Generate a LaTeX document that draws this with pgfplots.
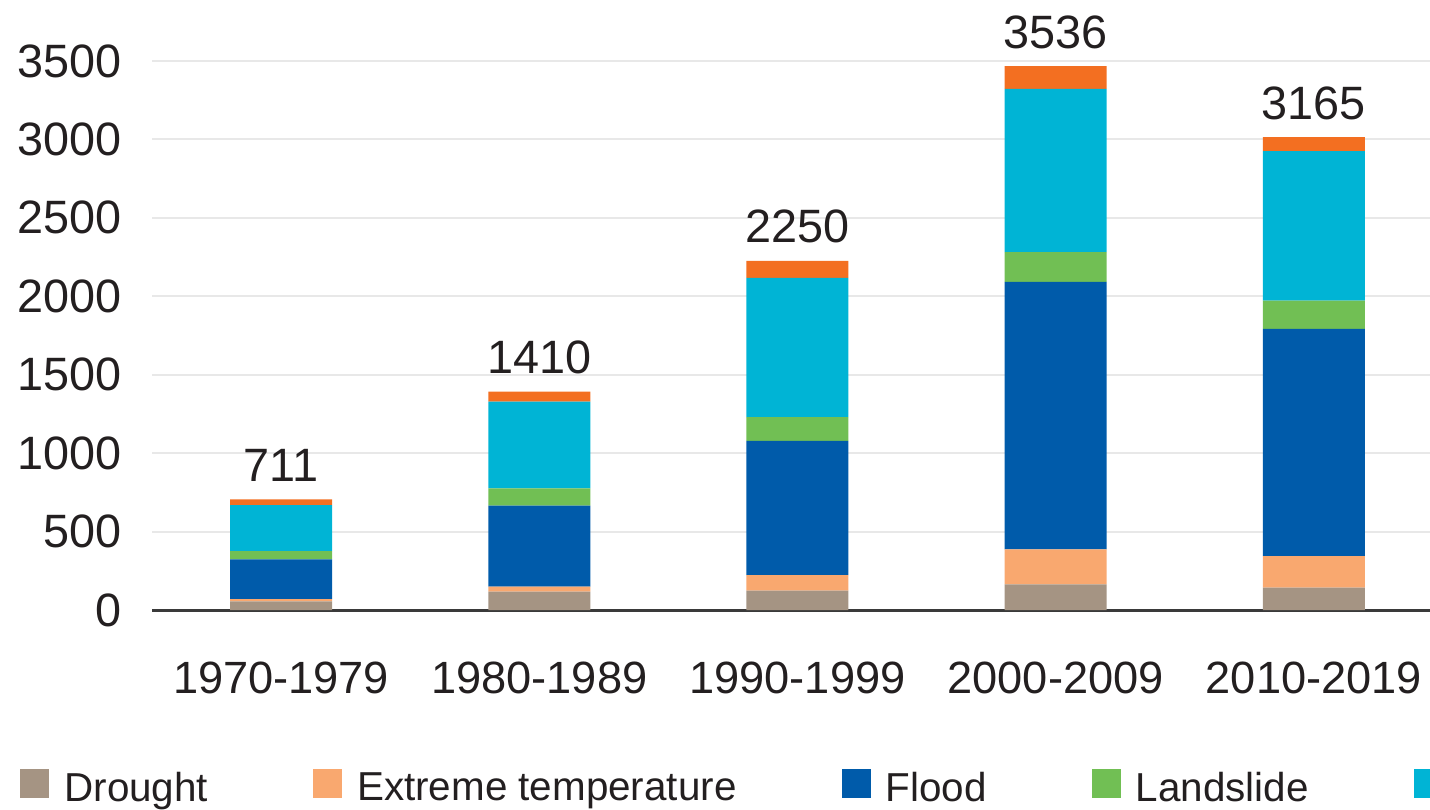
\documentclass[border=0pt]{standalone}
\usepackage{fontspec}
\setmainfont{Liberation Sans}
\usepackage{pgfplots}
\pgfplotsset{compat=1.18}
\definecolor{cDrought}{HTML}{A59483}
\definecolor{cTemp}{HTML}{F9A86F}
\definecolor{cFlood}{HTML}{005BAA}
\definecolor{cLand}{HTML}{71BF54}
\definecolor{cStorm}{HTML}{00B4D5}
\definecolor{cFire}{HTML}{F36F21}
\definecolor{txt}{HTML}{231F20}
\definecolor{gridc}{HTML}{E8E8E8}
\definecolor{axc}{HTML}{3A3A3A}
\tikzset{tl/.style={anchor=south, inner sep=0pt, yshift=8.5pt, text=txt, font=\fontsize{23.4}{28}\selectfont}}
\begin{document}
\begin{tikzpicture}
\begin{axis}[
  at={(76pt,99.5pt)}, anchor=south west,
  scale only axis, width=639pt, height=274.5pt,
  xmin=-0.5, xmax=4.45, ymin=0, ymax=3500,
  ybar stacked, bar width=0.395,
  clip=false,
  axis x line=bottom, axis y line=left,
  axis line style={-},
  x axis line style={draw=axc, line width=1.5pt},
  y axis line style={draw=none},
  major tick length=0pt,
  ymajorgrids, grid style={gridc, line width=1pt},
  xtick={0,1,2,3,4},
  xticklabels={1970-1979,1980-1989,1990-1999,2000-2009,2010-2019},
  ytick={0,500,1000,1500,2000,2500,3000,3500},
  /pgf/number format/assume math mode=true,
  /pgf/number format/1000 sep={},
  yticklabel style={font=\fontsize{23.4}{28}\selectfont, text=txt, inner sep=0pt, anchor=east, xshift=-15pt},
  xticklabel style={font=\fontsize{22.6}{27}\selectfont, text=txt, inner sep=0pt, anchor=north, yshift=-26pt},
  legend columns=6,
  legend image code/.code={\fill[#1] (0pt,-5pt) rectangle (14.5pt,9.5pt);},
  legend style={draw=none, fill=none, inner sep=0pt,
    at={(-0.1033,-0.2895)}, anchor=north west,
    font=\fontsize{20.2}{24}\selectfont, text=txt,
    nodes={inner sep=0pt},
    /tikz/column sep=7.5pt,
    /tikz/every even column/.append style={column sep=52.5pt}},
  legend cell align=left,
]
\addplot[fill=cDrought, draw=none] coordinates {(0,55) (1,117) (2,123) (3,163) (4,142)};
\addplot[fill=cTemp, draw=none] coordinates {(0,15) (1,32) (2,100) (3,224) (4,202)};
\addplot[fill=cFlood, draw=none] coordinates {(0,253) (1,516) (2,855) (3,1705) (4,1448)};
\addplot[fill=cLand, draw=none] coordinates {(0,53) (1,111) (2,151) (3,190) (4,181)};
\addplot[fill=cStorm, draw=none] coordinates {(0,292) (1,552) (2,888) (3,1041) (4,952)};
\addplot[fill=cFire, draw=none] coordinates {(0,38) (1,64) (2,109) (3,144) (4,90)};
\legend{Drought, Extreme temperature, Flood, Landslide, Storm, Wildfire}
\node[tl] at (axis cs:0,706) {711};
\node[tl] at (axis cs:1,1392) {1410};
\node[tl] at (axis cs:2,2226) {2250};
\node[tl] at (axis cs:3,3467) {3536};
\node[tl] at (axis cs:4,3015) {3165};
\end{axis}
\pgfresetboundingbox
\path[use as bounding box] (0,0) rectangle (715pt,404.5pt);
\end{tikzpicture}
\end{document}
